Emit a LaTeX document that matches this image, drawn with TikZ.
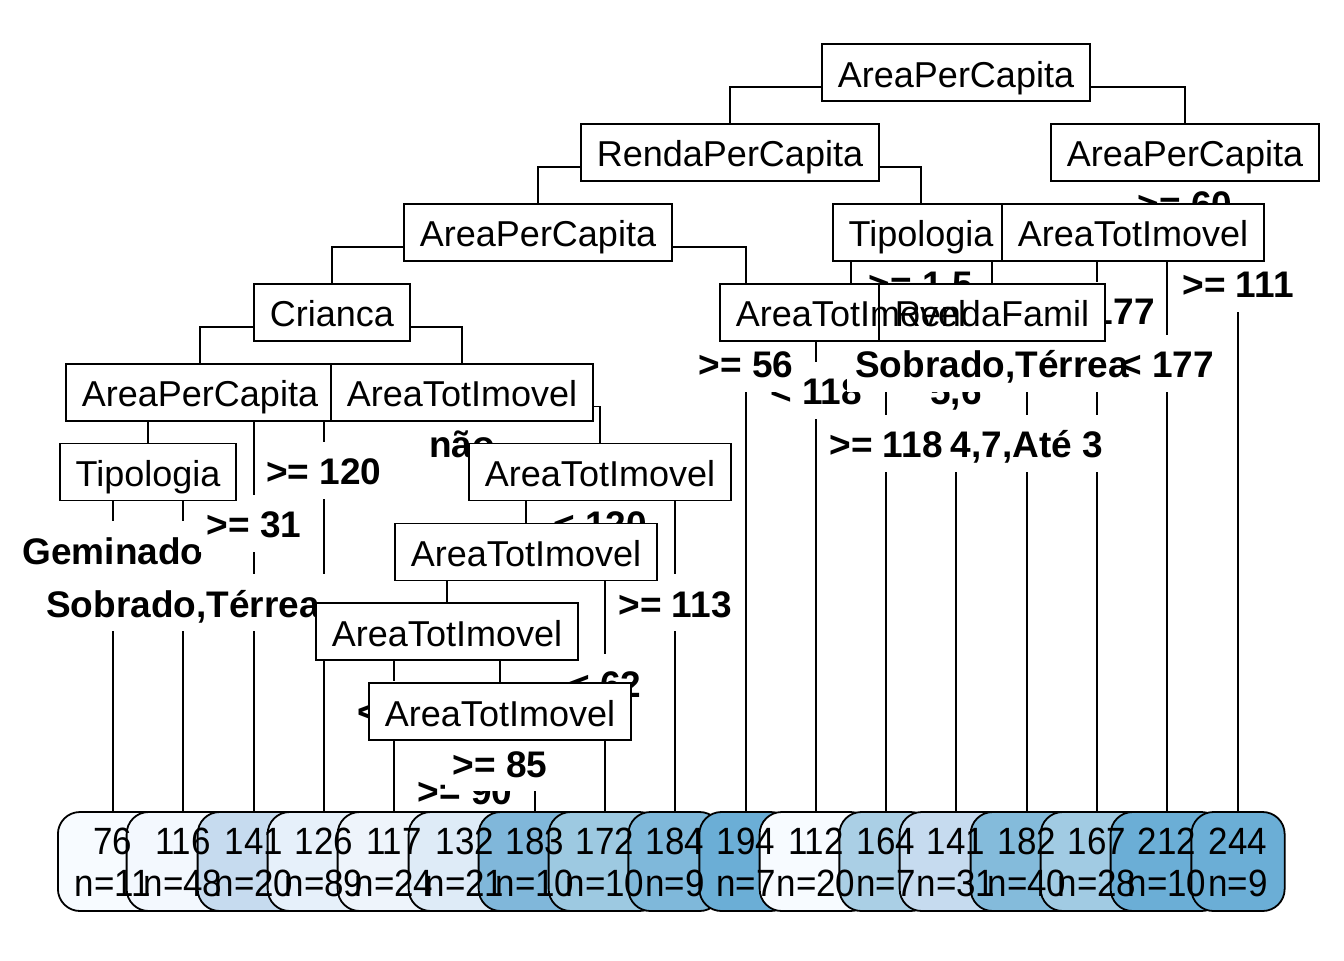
\documentclass[tikz,border=0pt]{standalone}
\usepackage{fontspec}
\setmainfont{Liberation Sans}
\newfontfamily\leaffont[FakeStretch=0.92]{Liberation Sans}
\pgfdeclarelayer{lines}
\pgfdeclarelayer{labels}
\pgfdeclarelayer{rlabels}
\pgfdeclarelayer{texts}
\pgfsetlayers{lines,labels,rlabels,main,texts}
\definecolor{lcA}{HTML}{F7FBFF}
\definecolor{lcB}{HTML}{F3F8FE}
\definecolor{lcC}{HTML}{C6DBEF}
\definecolor{lcD}{HTML}{E6F0FA}
\definecolor{lcE}{HTML}{EEF4FB}
\definecolor{lcF}{HTML}{DEEBF7}
\definecolor{lcG}{HTML}{80B7DA}
\definecolor{lcH}{HTML}{9DC9E1}
\definecolor{lcI}{HTML}{7FB8DA}
\definecolor{lcJ}{HTML}{6BAED6}
\definecolor{lcK}{HTML}{F7FBFF}
\definecolor{lcL}{HTML}{AACFE5}
\definecolor{lcM}{HTML}{C6DBEF}
\definecolor{lcN}{HTML}{84BBDB}
\definecolor{lcO}{HTML}{A1CBE3}
\definecolor{lcP}{HTML}{6BAED6}
\definecolor{lcQ}{HTML}{6BAED6}
\tikzset{
  nbox/.style={draw, fill=white, line width=0.9pt, inner xsep=8pt, inner ysep=0pt,
    text height=15.5pt, text depth=1pt, minimum height=28.5pt, font=\fontsize{18}{20}\selectfont},
  ntext/.style={inner sep=0pt, text height=15.5pt, text depth=1pt, minimum height=28.5pt,
    font=\fontsize{18}{20}\selectfont},
  slab/.style={fill=white, inner xsep=4pt, inner ysep=0pt, text height=15.5pt, text depth=1pt,
    minimum height=28.5pt, font=\fontsize{18.5}{20}\selectfont\bfseries},
  sbg/.style={slab},
  stext/.style={slab, fill=none},
  leafbox/.style={draw, line width=0.9pt, rounded corners=11pt, inner xsep=8.5pt, inner ysep=0pt,
    text height=0pt, text depth=0pt, minimum height=49.5pt, font=\leaffont\fontsize{19}{20}\selectfont},
  ltext/.style={anchor=base, inner sep=0pt, font=\leaffont\fontsize{19}{20}\selectfont},
  branch/.style={line width=0.8pt},
}
\begin{document}
\begin{tikzpicture}[x=0.5pt,y=-0.5pt]
\useasboundingbox (0,0) rectangle (1344,960);
% ---- interior node boxes
\node[nbox] (n1) at (956,72.5) {\phantom{AreaPerCapita}};
\node[nbox] (n2) at (730,152.4) {\phantom{RendaPerCapita}};
\node[nbox] (n3) at (1185,152.4) {\phantom{AreaPerCapita}};
\node[nbox] (n4) at (538,232.3) {\phantom{AreaPerCapita}};
\node[nbox] (n5) at (921,232.3) {\phantom{Tipologia}};
\node[nbox] (n6) at (1133,232.3) {\phantom{AreaTotImovel}};
\node[nbox] (n7) at (332,312.2) {\phantom{Crianca}};
\node[nbox] (n8) at (851,312.2) {\phantom{AreaTotImovel}};
\node[nbox] (n9) at (992,312.2) {\phantom{RendaFamil}};
\node[nbox] (n10) at (200,392.1) {\phantom{AreaPerCapita}};
\node[nbox] (n11) at (462,392.1) {\phantom{AreaTotImovel}};
\node[nbox] (n12) at (148,472) {\phantom{Tipologia}};
\node[nbox] (n13) at (600,472) {\phantom{AreaTotImovel}};
\node[nbox] (n14) at (526,551.9) {\phantom{AreaTotImovel}};
\node[nbox] (n15) at (447,631.8) {\phantom{AreaTotImovel}};
\node[nbox] (n16) at (500,711.7) {\phantom{AreaTotImovel}};
% ---- leaf boxes
\foreach \xx/\val/\nn/\col [count=\i] in {
  113/76/11/lcA, 183/116/48/lcB, 254/141/20/lcC, 324/126/89/lcD, 394/117/24/lcE,
  465/132/21/lcF, 535/183/10/lcG, 605/172/10/lcH, 675/184/9/lcI, 746/194/7/lcJ,
  816/112/20/lcK, 886/164/7/lcL, 956/141/31/lcM, 1027/182/40/lcN, 1097/167/28/lcO,
  1167/212/10/lcP, 1238/244/9/lcQ}{
  \node[leafbox, fill=\col] (L\i) at (\xx,861.5) {\phantom{\shortstack{\val\\n=\nn}}};
}
% ---- texts on top
\begin{pgfonlayer}{texts}
\node[ntext] (t1) at (n1) {AreaPerCapita};
\node[ntext] (t2) at (n2) {RendaPerCapita};
\node[ntext] (t3) at (n3) {AreaPerCapita};
\node[ntext] (t4) at (n4) {AreaPerCapita};
\node[ntext] (t5) at (n5) {Tipologia};
\node[ntext] (t6) at (n6) {AreaTotImovel};
\node[ntext] (t7) at (n7) {Crianca};
\node[ntext] (t8) at (n8) {AreaTotImovel};
\node[ntext] (t9) at (n9) {RendaFamil};
\node[ntext] (t10) at (n10) {AreaPerCapita};
\node[ntext] (t11) at (n11) {AreaTotImovel};
\node[ntext] (t12) at (n12) {Tipologia};
\node[ntext] (t13) at (n13) {AreaTotImovel};
\node[ntext] (t14) at (n14) {AreaTotImovel};
\node[ntext] (t15) at (n15) {AreaTotImovel};
\node[ntext] (t16) at (n16) {AreaTotImovel};
\foreach \val/\nn [count=\i] in {76/11, 116/48, 141/20, 126/89, 117/24, 132/21, 183/10,
  172/10, 184/9, 194/7, 112/20, 164/7, 141/31, 182/40, 167/28, 212/10, 244/9}{
  \node[ltext] (Lv\i) at ([yshift=3.75pt]L\i.center) {\val};
  \node[ltext] (Ln\i) at ([yshift=-17.25pt]L\i.center) {n=\nn};
}
\end{pgfonlayer}
% ---- branches
\begin{pgfonlayer}{lines}
\foreach \p/\q in {n1/n2, n1/n3, n2/n4, n2/n5, n3/n6, n3/L17, n4/n7, n4/L10,
  n5/n8, n5/n9, n6/L15, n6/L16, n7/n10, n7/n11, n8/L11, n8/L12, n9/L13, n9/L14,
  n10/n12, n10/L3, n11/L4, n11/n13, n12/L1, n12/L2, n13/n14, n13/L9,
  n14/n15, n14/L8, n15/L5, n15/n16, n16/L6, n16/L7}{
  \draw[branch] ([yshift=-7.25pt]\p.center) -| (\q.north);
}
\end{pgfonlayer}
% ---- split labels: left labels, then backgrounds of right labels
\begin{pgfonlayer}{labels}
\node[slab] (sl6) at (1097,310.2) {>= 177};
\node[slab] (sl8) at (816,390.1) {< 118};
\node[slab] (sl9) at (956,390.1) {5,6};
\node[slab] (sl11) at (324,470) {>= 120};
\node[slab] (sl12) at (113,549.9) {Geminado};
\node[slab] (sl15) at (394,709.7) {< 85};
\node[slab] (sl16) at (465,789.6) {>= 90};
\foreach \xx/\yy/\tt [count=\i] in {1185/203.4/{>= 60}, 921/283.3/{>= 1.5}, 1238/283.3/{>= 111},
  746/363.2/{>= 56}, 992/363.2/{Sobrado,Térrea}, 1167/363.2/{< 177}, 462/443.1/{não},
  886/443.1/{>= 118}, 1027/443.1/{4,7,Até 3}, 254/523/{>= 31}, 600/523/{< 120},
  183/602.9/{Sobrado,Térrea}, 675/602.9/{>= 113}, 605/682.8/{< 62}, 500/762.7/{>= 85}}{
  \node[sbg] (rb\i) at (\xx,\yy) {\phantom{\tt}};
}
\end{pgfonlayer}
% ---- right label texts
\begin{pgfonlayer}{rlabels}
\node[stext] (sr1) at (rb1) {>= 60};
\node[stext] (sr2) at (rb2) {>= 1.5};
\node[stext] (sr3) at (rb3) {>= 111};
\node[stext] (sr4) at (rb4) {>= 56};
\node[stext] (sr5) at (rb5) {Sobrado,Térrea};
\node[stext] (sr6) at (rb6) {< 177};
\node[stext] (sr7) at (rb7) {não};
\node[stext] (sr8) at (rb8) {>= 118};
\node[stext] (sr9) at (rb9) {4,7,Até 3};
\node[stext] (sr10) at (rb10) {>= 31};
\node[stext] (sr11) at (rb11) {< 120};
\node[stext] (sr12) at (rb12) {Sobrado,Térrea};
\node[stext] (sr13) at (rb13) {>= 113};
\node[stext] (sr14) at (rb14) {< 62};
\node[stext] (sr15) at (rb15) {>= 85};
\end{pgfonlayer}
\end{tikzpicture}
\end{document}
